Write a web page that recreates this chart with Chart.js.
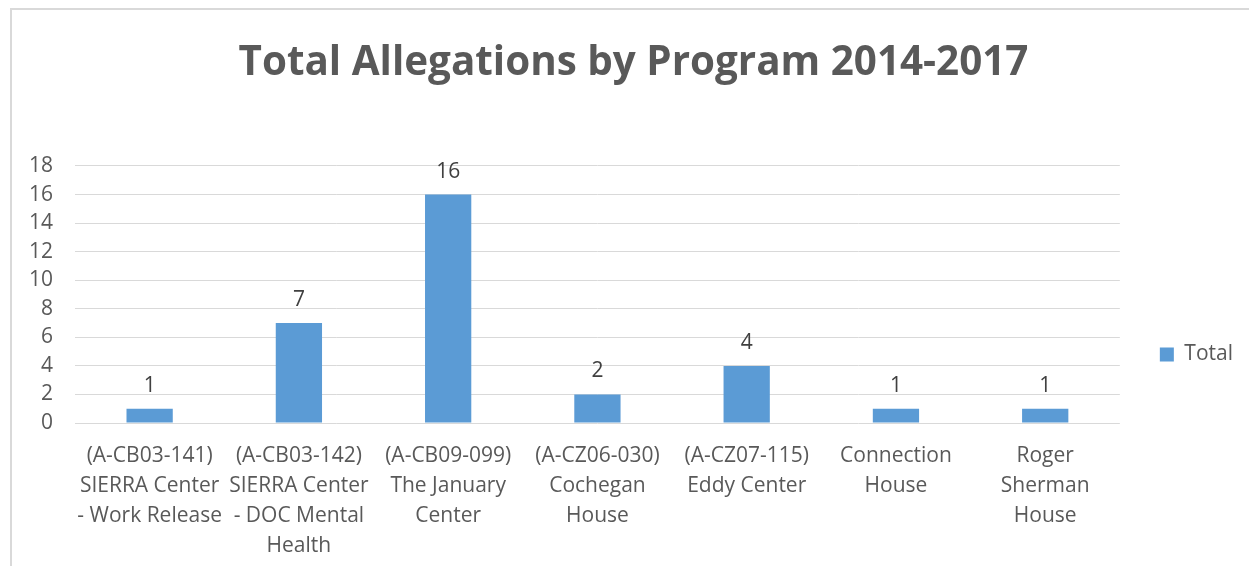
<!DOCTYPE html>
<html>
<head>
<meta charset="utf-8">
<script src="https://cdn.jsdelivr.net/npm/chart.js@4.4.1/dist/chart.umd.min.js"></script>
<style>
  html, body { margin: 0; padding: 0; background: #ffffff; }
  #wrap { position: relative; width: 1249px; height: 566px; overflow: hidden; }
  #frame { position: absolute; left: 10px; top: 8px; width: 1300px; height: 600px;
           border-left: 2px solid #d9d9d9; border-top: 2px solid #d9d9d9; box-sizing: border-box; }
  #c { position: absolute; left: 0; top: 0; }
</style>
</head>
<body>
<div id="wrap">
  <div id="frame"></div>
  <canvas id="c" width="1249" height="566"></canvas>
</div>
<script>
const categories = [
  ["(A-CB03-141)", "SIERRA Center", "- Work Release"],
  ["(A-CB03-142)", "SIERRA Center", "- DOC Mental", "Health"],
  ["(A-CB09-099)", "The January", "Center"],
  ["(A-CZ06-030)", "Cochegan", "House"],
  ["(A-CZ07-115)", "Eddy Center"],
  ["Connection", "House"],
  ["Roger", "Sherman", "House"]
];
const seriesName = "Total";
const totals = [1, 7, 16, 2, 4, 1, 1];
const yTicks = [0, 2, 4, 6, 8, 10, 12, 14, 16, 18];
const chartTitle = "Total Allegations by Program 2014-2017";

const FONT = "'Open Sans', 'DejaVu Sans', sans-serif";
const TEXT = "#595959";

const valueLabels = {
  id: 'valueLabels',
  afterDatasetsDraw(chart) {
    const ctx = chart.ctx;
    ctx.save();
    ctx.font = "21px " + FONT;
    ctx.fillStyle = "#404040";
    ctx.textAlign = "center";
    ctx.textBaseline = "middle";
    chart.data.datasets.forEach((ds, di) => {
      const meta = chart.getDatasetMeta(di);
      meta.data.forEach((bar, i) => {
        ctx.fillText(String(ds.data[i]), bar.x, bar.y - 23);
      });
    });
    ctx.restore();
  }
};

const boxPlacement = {
  id: 'boxPlacement',
  afterLayout(chart) {
    const lg = chart.legend;
    const x = chart.scales.x;
    lg.top = chart.chartArea.top;
    lg.bottom = x.bottom - 23;
    const t = chart.titleBlock;
    if (t) { t.left = 18; t.right = chart.width; }
  }
};

new Chart(document.getElementById('c'), {
  type: 'bar',
  data: {
    labels: categories,
    datasets: [{
      label: seriesName,
      data: totals,
      backgroundColor: '#5b9bd5',
      borderWidth: 0,
      barPercentage: 0.31,
      categoryPercentage: 1.0
    }]
  },
  plugins: [valueLabels, boxPlacement],
  options: {
    responsive: false,
    animation: false,
    layout: { padding: { left: 0, right: 6, top: 0, bottom: 0 } },
    plugins: {
      title: {
        display: true,
        text: chartTitle,
        color: TEXT,
        font: { family: FONT, size: 40.4, weight: 'bold' },
        padding: { top: 39, bottom: 78.5 }
      },
      legend: {
        display: true,
        position: 'right',
        align: 'center',
        labels: {
          color: TEXT,
          font: { family: FONT, size: 21 },
          boxWidth: 14,
          boxHeight: 14,
          padding: 40
        }
      },
      tooltip: { enabled: false }
    },
    scales: {
      x: {
        grid: { display: false, drawTicks: false },
        border: { display: false },
        ticks: {
          color: TEXT,
          font: { family: FONT, size: 21, lineHeight: 1.43 },
          padding: 18,
          maxRotation: 0,
          autoSkip: false
        },
        afterFit(scale) { scale.height = 143; }
      },
      y: {
        min: 0,
        max: 18,
        afterBuildTicks(scale) { scale.ticks = yTicks.map(v => ({ value: v })); },
        grid: { color: '#d9d9d9', lineWidth: 1, drawTicks: false },
        border: { display: false },
        ticks: {
          color: TEXT,
          font: { family: FONT, size: 21 },
          padding: 22
        },
        afterFit(scale) { scale.width = 75; }
      }
    }
  }
});
</script>
</body>
</html>
